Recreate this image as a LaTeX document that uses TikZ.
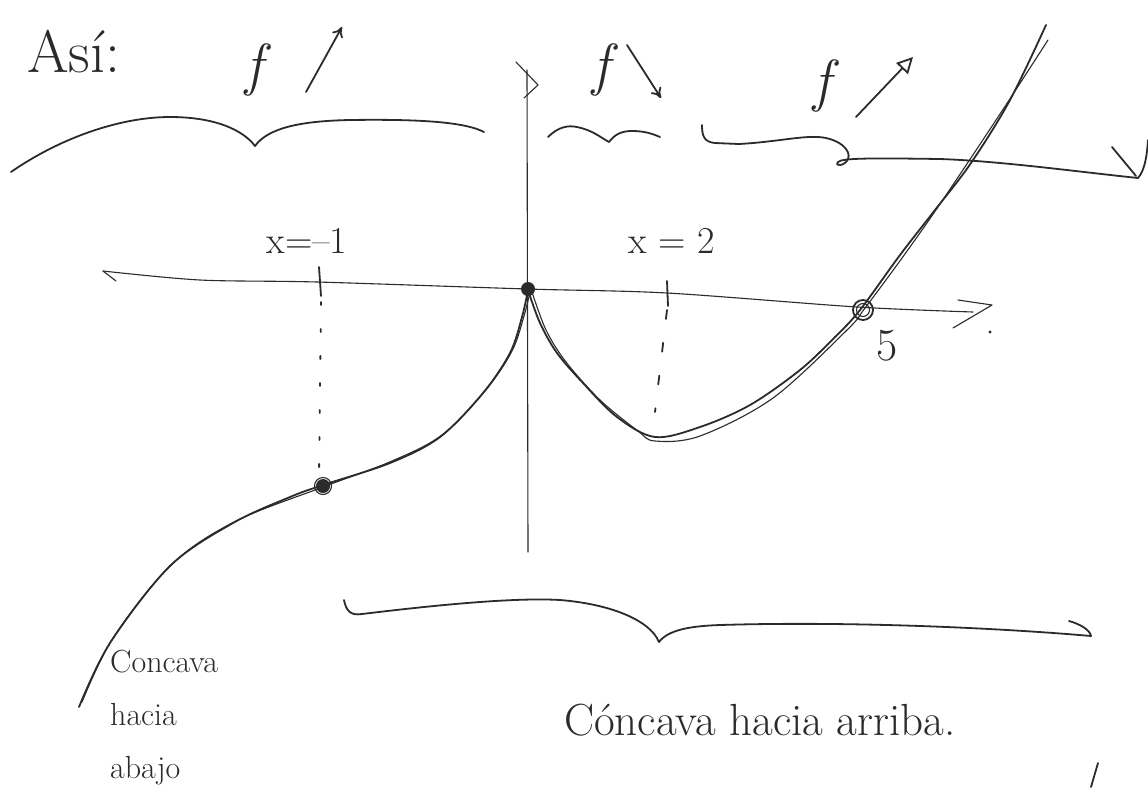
\documentclass[tikz,border=0pt]{standalone}
\usetikzlibrary{arrows.meta}
\definecolor{ink}{HTML}{2B2B2B}
\tikzset{
  inkline/.style={draw=ink, line width=1.8pt, line cap=round, line join=round},
  thinline/.style={draw=ink, line width=1.1pt, line cap=round, line join=round},
  lbl/.style={text=ink, inner sep=0pt},
  flbl/.style={lbl, font=\fontsize{58}{58}\selectfont\itshape},
  xlbl/.style={lbl, font=\fontsize{38}{38}\selectfont},
}
\begin{document}
\begin{tikzpicture}[x=1pt,y=-1pt]
\useasboundingbox[fill=white] (0,0) rectangle (1148,788);

% ---------- axes ----------
\draw[thinline] (116,281) -- (103,271);
\draw[thinline] plot[smooth, tension=0.5] coordinates {(103,271) (200,280) (317,282) (527,289) (667,293) (857,307) (973,312)};
\draw[thinline] (958,300) -- (992,305) -- (953,328);
\fill[ink] (990,332) circle (1.6);
\draw[thinline] (528,552) -- (527,70);
\draw[thinline] (516,62) -- (538,85) -- (524,98);

% ---------- ticks and guide lines ----------
\coordinate (t1) at (319,267);
\coordinate (t1b) at (321,296);
\coordinate (t2) at (667,281);
\coordinate (t2b) at (668,306);
\draw[inkline] (t1) -- (t1b);
\draw[inkline] (t2) -- (t2b);
\coordinate (P1) at (323,486);
\coordinate (O) at (528,289);
\coordinate (P5) at (863,310);
\draw[inkline, dash pattern=on 3pt off 24pt] (321,302) -- (319,476);
\draw[inkline, dash pattern=on 9pt off 24pt] (667,310) -- (655,412);

% ---------- curve ----------
\draw[inkline] plot[smooth, tension=0.55] coordinates {(79,707) (110,643) (170,566) (233,523) (290,497) (323,485) (390,463) (440,437) (483,393) (510,353) (522,317) (528,290)};
\draw[thinline] plot[smooth, tension=0.55] coordinates {(82,702) (113,638) (172,564) (236,521) (323,487) (392,461) (442,435) (485,391) (512,351) (524,316) (530,292)};
\draw[inkline] plot[smooth, tension=0.55] coordinates {(528,290) (540,323) (557,353) (583,383) (617,417) (655,437) (700,427) (750,405) (800,370) (835,337) (860,310) (900,255) (935,210) (971,163) (1010,100) (1046,25)};
\draw[thinline] plot[smooth, tension=0.55] coordinates {(532,292) (546,330) (566,362) (600,400) (638,431) (655,441) (700,436) (773,398) (847,330) (865,308) (902,258) (940,204) (1000,114) (1048,40)};

% ---------- points ----------
\fill[ink] (P1) circle (7);
\draw[thinline] (P1) circle (8.5);
\fill[ink] (O) circle (7);
\draw[inkline] (P5) circle (10);
\draw[thinline] (P5) circle (6.5);

% ---------- braces ----------
\draw[inkline] (11,172) .. controls (60,138) and (120,117) .. (170,117) .. controls (215,117) and (243,130) .. (255,146) .. controls (268,128) and (300,121) .. (350,120) .. controls (420,119) and (465,122) .. (484,132);
\draw[inkline] (548,137) .. controls (558,127) and (568,125) .. (577,127) .. controls (592,130) and (600,137) .. (609,142) .. controls (615,134) and (622,131) .. (632,131) .. controls (645,131) and (653,134) .. (660,137);
\draw[inkline] (702,125) .. controls (702,136) and (704,142) .. (715,143) -- (739,144) .. controls (775,142) and (800,136) .. (818,137) .. controls (838,138) and (852,150) .. (848,159) .. controls (845,166) and (834,167) .. (838,162) .. controls (842,158) and (870,158) .. (940,159) .. controls (1000,161) and (1080,172) .. (1138,178) .. controls (1145,170) and (1147,155) .. (1148,140);
\draw[inkline] (1112,147) -- (1136,176);
\draw[inkline] (344,600) .. controls (346,610) and (350,616) .. (362,614) .. controls (420,607) and (510,597) .. (560,600) .. controls (610,604) and (650,620) .. (659,642) .. controls (668,630) and (690,626) .. (720,625) .. controls (850,621) and (1000,628) .. (1091,636) .. controls (1090,630) and (1080,624) .. (1069,621);
\draw[inkline] (1098,763) -- (1091,787);

% ---------- labels ----------
\node[lbl, anchor=base west, font=\fontsize{60}{60}\selectfont] (asi) at (27,72) {Así:};
\node[flbl] (f1) at (254,70) {f};
\coordinate (a1s) at (306,92);
\coordinate (a1e) at (342,27);
\draw[inkline, -{To[length=10pt,width=12pt]}] (a1s) -- (a1e);
\node[flbl] (f2) at (601,70) {f};
\coordinate (a2s) at (627,45);
\coordinate (a2e) at (661,98);
\draw[inkline, -{To[length=10pt,width=12pt]}] (a2s) -- (a2e);
\node[flbl] (f3) at (822,86) {f};
\coordinate (a3s) at (856,117);
\coordinate (a3e) at (913,57);
\draw[inkline, -{Triangle[open,length=16pt,width=16pt]}] (a3s) -- (a3e);

\node[xlbl, anchor=base] (xm1) at (307,253) {x=--1};
\node[xlbl, anchor=base] (x2) at (672,253) {x = 2};
\node[lbl, anchor=base, font=\fontsize{46}{46}\selectfont] (five) at (887,360) {5};
\node[lbl, anchor=north west, align=left, font=\fontsize{32}{53}\selectfont] (cabajo) at (110,650) {Concava\\hacia\\abajo};
\node[lbl, anchor=base west, font=\fontsize{45}{45}\selectfont] (carriba) at (564,735) {Cóncava hacia arriba.};
\end{tikzpicture}
\end{document}
